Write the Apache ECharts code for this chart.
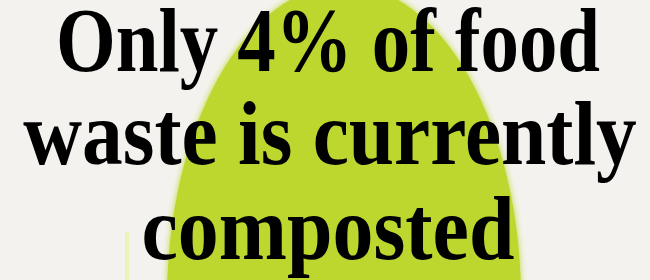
<!DOCTYPE html>
<html>
<head>
<meta charset="utf-8">
<script src="https://cdn.jsdelivr.net/npm/echarts@6/dist/echarts.min.js"></script>
<style>
  html, body { margin: 0; padding: 0; background: #f4f2ee; }
  #main { width: 650px; height: 280px; }
</style>
</head>
<body>
<div id="main"></div>
<script>
// headline, one entry per line
let lines = ["Only 4% of food", "waste is currently", "composted"];
let share = [4];

let chart = echarts.init(document.getElementById("main"));

let font = 'bold 92px "Liberation Serif"';
let lineY = [47, 140, 235];
let lineX = [328, 330, 328];
let squeeze = [0.835, 0.885, 0.89];

let texts = lines.map((t, i) => ({
    type: "text",
    x: lineX[i],
    y: lineY[i],
    scaleX: squeeze[i],
    z: 10,
    style: {
        text: t,
        font: font,
        fill: "#000",
        textAlign: "center",
        textVerticalAlign: "middle"
    }
}));

chart.setOption({
    backgroundColor: "#f4f2ee",
    graphic: [
        {
            // green blob behind the words
            type: "circle",
            x: 344,
            y: 300,
            scaleY: 1.78,
            shape: { cx: 0, cy: 0, r: 177 },
            style: { fill: "#bdd72f", shadowBlur: 6, shadowColor: "#bdd72f" },
            z: 1
        },
        {
            type: "rect",
            shape: { x: 125, y: 232, width: 4, height: 48 },
            style: { fill: "#eef0a6", opacity: 0.8 },
            z: 1
        }
    ].concat(texts)
});
</script>
</body>
</html>
